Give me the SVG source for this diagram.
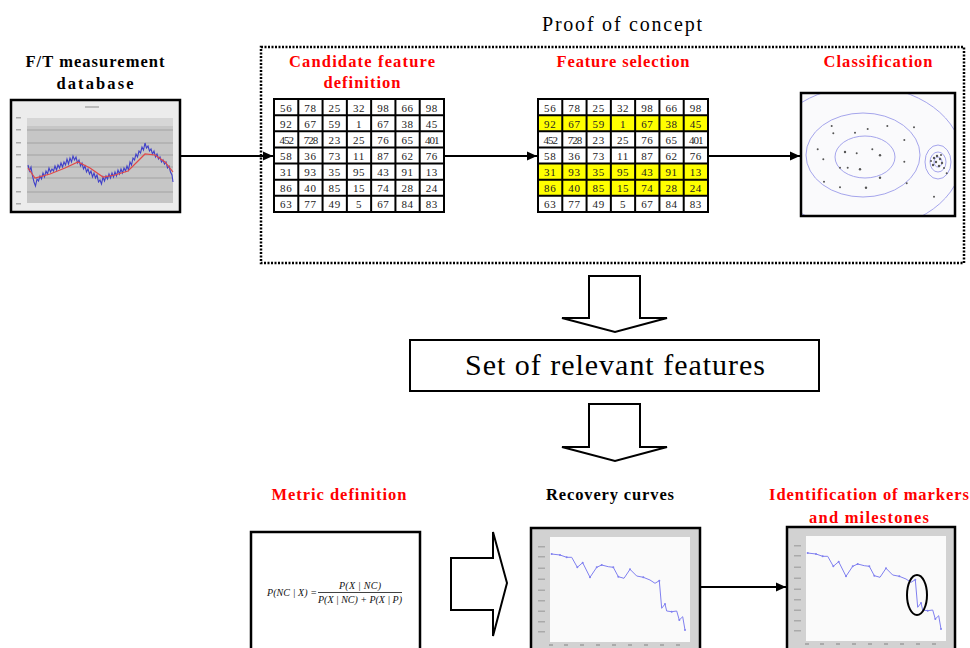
<svg xmlns="http://www.w3.org/2000/svg" xmlns:xlink="http://www.w3.org/1999/xlink" width="970" height="648" viewBox="0 0 970 648">
<style>
.title{font-family:"Liberation Serif",serif;font-weight:bold;font-size:16.5px;text-anchor:middle}
.red{fill:#ff0000}
.blk{fill:#000}
.cell{font-family:"Liberation Serif",serif;font-size:11px;text-anchor:middle;fill:#222;letter-spacing:0.6px}
.grid{stroke:#000;stroke-width:2;fill:none}
.frame{fill:none;stroke:#000;stroke-width:2.5}
.conn{stroke:#000;stroke-width:2;fill:none}
.block{fill:#fff;stroke:#000;stroke-width:2}
.formula{font-family:"Liberation Serif",serif;font-style:italic;font-size:10px;fill:#111}
.contour{fill:none;stroke:#a5a5ec;stroke-width:1}
.dot{fill:#555}
.tick{fill:#aaa}
</style>
<defs>
<marker id="ah" viewBox="0 0 10 10" refX="10" refY="5" markerWidth="11" markerHeight="10" markerUnits="userSpaceOnUse" orient="auto"><path d="M0,0.5 L10,5 L0,9.5 z" fill="#000"/></marker>
<g id="tbl">
<path class="grid" d="M0,0H170V113H0Z M24.29,0V113 M48.57,0V113 M72.86,0V113 M97.14,0V113 M121.43,0V113 M145.71,0V113 M0,16.14H170 M0,32.29H170 M0,48.43H170 M0,64.57H170 M0,80.71H170 M0,96.86H170"/>
<g class="cell">
<text x="12.14" y="12.5">56</text><text x="36.43" y="12.5">78</text><text x="60.71" y="12.5">25</text><text x="85" y="12.5">32</text><text x="109.29" y="12.5">98</text><text x="133.57" y="12.5">66</text><text x="157.86" y="12.5">98</text>
<text x="12.14" y="28.6">92</text><text x="36.43" y="28.6">67</text><text x="60.71" y="28.6">59</text><text x="85" y="28.6">1</text><text x="109.29" y="28.6">67</text><text x="133.57" y="28.6">38</text><text x="157.86" y="28.6">45</text>
<text x="12.14" y="44.8" letter-spacing="-1">452</text><text x="36.43" y="44.8" letter-spacing="-1">728</text><text x="60.71" y="44.8">23</text><text x="85" y="44.8">25</text><text x="109.29" y="44.8">76</text><text x="133.57" y="44.8">65</text><text x="157.86" y="44.8" letter-spacing="-1">401</text>
<text x="12.14" y="60.9">58</text><text x="36.43" y="60.9">36</text><text x="60.71" y="60.9">73</text><text x="85" y="60.9">11</text><text x="109.29" y="60.9">87</text><text x="133.57" y="60.9">62</text><text x="157.86" y="60.9">76</text>
<text x="12.14" y="77.1">31</text><text x="36.43" y="77.1">93</text><text x="60.71" y="77.1">35</text><text x="85" y="77.1">95</text><text x="109.29" y="77.1">43</text><text x="133.57" y="77.1">91</text><text x="157.86" y="77.1">13</text>
<text x="12.14" y="93.2">86</text><text x="36.43" y="93.2">40</text><text x="60.71" y="93.2">85</text><text x="85" y="93.2">15</text><text x="109.29" y="93.2">74</text><text x="133.57" y="93.2">28</text><text x="157.86" y="93.2">24</text>
<text x="12.14" y="109.4">63</text><text x="36.43" y="109.4">77</text><text x="60.71" y="109.4">49</text><text x="85" y="109.4">5</text><text x="109.29" y="109.4">67</text><text x="133.57" y="109.4">84</text><text x="157.86" y="109.4">83</text>
</g>
</g>
<g id="rchart">
<rect x="531" y="528" width="169" height="130" fill="#d2d2d2"/>
<rect x="550" y="537" width="140" height="105" fill="#fafafa"/>
<g class="tick">
<rect x="538" y="546" width="7" height="1.5"/><rect x="538" y="556" width="7" height="1.5"/><rect x="538" y="567.5" width="7" height="1.5"/><rect x="538" y="578.5" width="7" height="1.5"/><rect x="538" y="589.5" width="7" height="1.5"/><rect x="538" y="600" width="7" height="1.5"/><rect x="538" y="610.5" width="7" height="1.5"/><rect x="538" y="621" width="7" height="1.5"/><rect x="538" y="631" width="7" height="1.5"/>
<rect x="549" y="644" width="4" height="2"/><rect x="564" y="644" width="4" height="2"/><rect x="580" y="644" width="4" height="2"/><rect x="596" y="644" width="4" height="2"/><rect x="612" y="644" width="4" height="2"/><rect x="628" y="644" width="4" height="2"/><rect x="644" y="644" width="4" height="2"/><rect x="660" y="644" width="4" height="2"/><rect x="676" y="644" width="4" height="2"/>
</g>
<polyline fill="none" stroke="#8080f0" stroke-width="1" points="551.7,554 560,555 566.7,557.3 571.7,557.3 577.3,567.3 582.7,562.7 590,577.3 596.7,567.3 601.7,565 608.3,566.7 613.3,567.3 618.3,576.7 624,578.3 630,569.3 636.7,576 643.3,577.3 650,580 655,583.3 659.3,580.7 661.7,608.3 665,604 666.7,611 671.7,611.7 676.7,611 679.3,620 682.7,616.7 685,630"/>
<g fill="#8080f0">
<circle cx="551.7" cy="554" r="1"/><circle cx="560" cy="555" r="1"/><circle cx="566.7" cy="557.3" r="1"/><circle cx="577.3" cy="567.3" r="1"/><circle cx="582.7" cy="562.7" r="1"/><circle cx="590" cy="577.3" r="1"/><circle cx="596.7" cy="567.3" r="1"/><circle cx="601.7" cy="565" r="1"/><circle cx="613.3" cy="567.3" r="1"/><circle cx="618.3" cy="576.7" r="1"/><circle cx="630" cy="569.3" r="1"/><circle cx="643.3" cy="577.3" r="1"/><circle cx="659.3" cy="580.7" r="1"/><circle cx="665" cy="604" r="1"/><circle cx="671.7" cy="611.7" r="1"/><circle cx="679.3" cy="620" r="1"/><circle cx="685" cy="630" r="1"/>
</g>
</g>
<clipPath id="clipC"><rect x="801" y="93" width="154" height="123"/></clipPath>
</defs>

<text x="622" y="31" font-family="'Liberation Serif',serif" font-size="20" text-anchor="middle" textLength="160" lengthAdjust="spacing">Proof of concept</text>
<rect x="261" y="47" width="703" height="216" fill="none" stroke="#000" stroke-width="2.5" stroke-dasharray="2 1.5"/>

<g id="ft-database">
<text class="title blk" x="95" y="67" textLength="139" lengthAdjust="spacing">F/T measurement</text>
<text class="title blk" x="95" y="89" textLength="77" lengthAdjust="spacing">database</text>
<rect x="11" y="100" width="169" height="112" fill="#ececec"/>
<rect x="27" y="118" width="146" height="85" fill="#c6c6c6"/>
<rect x="27" y="118" width="146" height="8" fill="#d6d6d6"/>
<rect x="85" y="106" width="14" height="2" fill="#bbb"/>
<g stroke="#9a9a9a" stroke-width="0.8"><line x1="27" y1="130" x2="173" y2="130"/><line x1="27" y1="143" x2="173" y2="143"/><line x1="27" y1="155" x2="173" y2="155"/><line x1="27" y1="167" x2="173" y2="167"/><line x1="27" y1="178" x2="173" y2="178"/><line x1="27" y1="192" x2="173" y2="192"/></g>
<g fill="#aaa"><rect x="16" y="117" width="5" height="1.5"/><rect x="16" y="129" width="5" height="1.5"/><rect x="16" y="142" width="5" height="1.5"/><rect x="16" y="154" width="5" height="1.5"/><rect x="16" y="166" width="5" height="1.5"/><rect x="16" y="177" width="5" height="1.5"/><rect x="16" y="191" width="5" height="1.5"/><rect x="16" y="203" width="5" height="1.5"/></g>
<polyline fill="none" stroke="#4040c8" stroke-width="1.1" points="28,165 29.5,171 31,167 32.5,176 34,182 35.5,186 37,179 38.5,181 40,176 41.5,179 43,173 44.5,177 46,171 47.5,174 49,168 50.5,172 52,169 53.5,171 55,166 56.5,170 58,165 59.5,168 61,163 62.5,167 64,162 65.5,165 67,159 68.5,164 70,158 71.5,162 73,156 74.5,160 76,157 77.5,163 79,160 80.5,166 82,163 83.5,169 85,166 86.5,172 88,169 89.5,174 91,171 92.5,177 94,173 95.5,178 97,175 98.5,182 100,180 101.5,184 103,177 104.5,181 106,176 107.5,179 109,174 110.5,178 112,173 113.5,177 115,172 116.5,176 118,170 119.5,174 121,169 122.5,173 124,168 125.5,171 127,166 128.5,170 130,162 131.5,165 133,158 134.5,160 136,154 137.5,157 139,151 140.5,153 142,147 143.5,150 145,143 146.5,148 148,146 149.5,151 151,149 152.5,154 154,151 155.5,157 157,154 158.5,159 160,157 161.5,162 163,160 164.5,164 166,162 167.5,168 169,166 170.5,172 172,175 173,182"/>
<polyline fill="none" stroke="#e04848" stroke-width="1.2" points="28,168 35,178 50,174 65,168 78,162 90,168 103,177 115,175 128,171 137,162 145,154 155,155 165,162 173,172"/>
<rect class="frame" x="11" y="100" width="169" height="112"/>
</g>

<g id="candidate-features">
<text class="title red" x="362" y="67" textLength="146" lengthAdjust="spacing">Candidate feature</text>
<text class="title red" x="362" y="88" textLength="77" lengthAdjust="spacing">definition</text>
<rect x="274" y="99" width="170" height="113" fill="#fff"/>
<use xlink:href="#tbl" href="#tbl" transform="translate(274,99)"/>
</g>

<g id="feature-selection">
<text class="title red" x="623" y="67" textLength="133" lengthAdjust="spacing">Feature selection</text>
<rect x="538" y="99" width="170" height="113" fill="#fff"/>
<rect x="538" y="115.14" width="170" height="16.14" fill="#ffff00"/>
<rect x="538" y="163.57" width="170" height="32.29" fill="#ffff00"/>
<use xlink:href="#tbl" href="#tbl" transform="translate(538,99)"/>
</g>

<g id="classification">
<text class="title red" x="878" y="67" textLength="109" lengthAdjust="spacing">Classification</text>
<rect x="801" y="93" width="154" height="123" fill="#fafafc"/>
<g clip-path="url(#clipC)">
<ellipse class="contour" cx="864" cy="158" rx="98" ry="72"/>
<ellipse class="contour" cx="863" cy="155" rx="57" ry="42"/>
<ellipse class="contour" cx="865" cy="157" rx="30" ry="21"/>
<ellipse class="contour" cx="938" cy="162" rx="13" ry="17"/>
<ellipse class="contour" cx="938" cy="162" rx="8" ry="10"/>
<ellipse class="contour" cx="938" cy="162" rx="4" ry="5"/>
</g>
<g class="dot">
<circle cx="831.7" cy="126" r="1"/><circle cx="833.3" cy="133.3" r="1"/><circle cx="855" cy="132.7" r="1"/><circle cx="867.7" cy="129" r="1"/><circle cx="887.3" cy="126" r="1"/><circle cx="914" cy="127.3" r="1"/><circle cx="904.3" cy="140" r="1"/><circle cx="817.7" cy="149.3" r="1"/><circle cx="845" cy="152" r="1.2"/><circle cx="856.7" cy="153.3" r="1"/><circle cx="872.3" cy="149.3" r="1"/><circle cx="880" cy="155.3" r="1.2"/><circle cx="823.3" cy="159.3" r="1"/><circle cx="840" cy="167.7" r="1"/><circle cx="847.7" cy="167.7" r="1"/><circle cx="860" cy="169.3" r="1.2"/><circle cx="904.3" cy="161.7" r="1"/><circle cx="880" cy="177.7" r="1.2"/><circle cx="824" cy="181.7" r="1"/><circle cx="840" cy="187.3" r="1"/><circle cx="866" cy="187.7" r="1.2"/><circle cx="906.7" cy="183.3" r="1"/><circle cx="934" cy="196.7" r="1"/><circle cx="946.7" cy="173.3" r="1"/>
<circle cx="934" cy="158" r="1.2"/><circle cx="937" cy="156" r="1.2"/><circle cx="940" cy="159" r="1.2"/><circle cx="936" cy="162" r="1.2"/><circle cx="942" cy="163" r="1.2"/><circle cx="939" cy="166" r="1.2"/><circle cx="933" cy="165" r="1.2"/><circle cx="944" cy="168" r="1"/><circle cx="941" cy="155" r="1"/><circle cx="931" cy="161" r="1"/>
</g>
<rect class="frame" x="801" y="93" width="154" height="123"/>
</g>

<g id="relevant-features">
<rect x="410" y="340" width="409" height="51" fill="#fff" stroke="#000" stroke-width="2"/>
<text x="615" y="375" font-family="'Liberation Serif',serif" font-size="30" text-anchor="middle" textLength="300" lengthAdjust="spacing">Set of relevant features</text>
</g>

<g id="metric-definition">
<text class="title red" x="339" y="500" textLength="135" lengthAdjust="spacing">Metric definition</text>
<rect x="251" y="532" width="169" height="130" fill="#fff" stroke="#000" stroke-width="2.5"/>
<text class="formula" x="267" y="596" textLength="50" lengthAdjust="spacing">P(NC | X) =</text>
<text class="formula" x="360" y="589" text-anchor="middle" textLength="42" lengthAdjust="spacing">P(X | NC)</text>
<line x1="318" y1="592.5" x2="402" y2="592.5" stroke="#111" stroke-width="0.8"/>
<text class="formula" x="360" y="603" text-anchor="middle" textLength="84" lengthAdjust="spacing">P(X | NC) + P(X | P)</text>
</g>

<g id="recovery-curves">
<text class="title blk" x="610" y="500" textLength="128" lengthAdjust="spacing">Recovery curves</text>
<use xlink:href="#rchart" href="#rchart"/>
<rect class="frame" x="531" y="528" width="169" height="130"/>
</g>

<g id="markers-milestones">
<text class="title red" x="869" y="500" textLength="200" lengthAdjust="spacing">Identification of markers</text>
<text class="title red" x="869" y="523" textLength="120" lengthAdjust="spacing">and milestones</text>
<use xlink:href="#rchart" href="#rchart" transform="translate(256,-1)"/>
<rect class="frame" x="787" y="527" width="168" height="130"/>
<ellipse cx="917" cy="595" rx="10" ry="20" fill="none" stroke="#000" stroke-width="2"/>
</g>

<g id="connectors">
<line class="conn" x1="180" y1="156" x2="273" y2="156" marker-end="url(#ah)"/>
<line class="conn" x1="444" y1="156" x2="537" y2="156" marker-end="url(#ah)"/>
<line class="conn" x1="708" y1="156" x2="800" y2="156" marker-end="url(#ah)"/>
<line class="conn" x1="700" y1="587" x2="786" y2="587" marker-end="url(#ah)"/>
<path class="block" d="M589,276 H640 V318 H667 L615,332 L562,318 H589 Z"/>
<path class="block" d="M589,404 H640 V447 H667 L615,461 L562,447 H589 Z"/>
<path class="block" d="M451,558 H493 V532 L507,583 L493,636 V610 H451 Z"/>
</g>
</svg>
